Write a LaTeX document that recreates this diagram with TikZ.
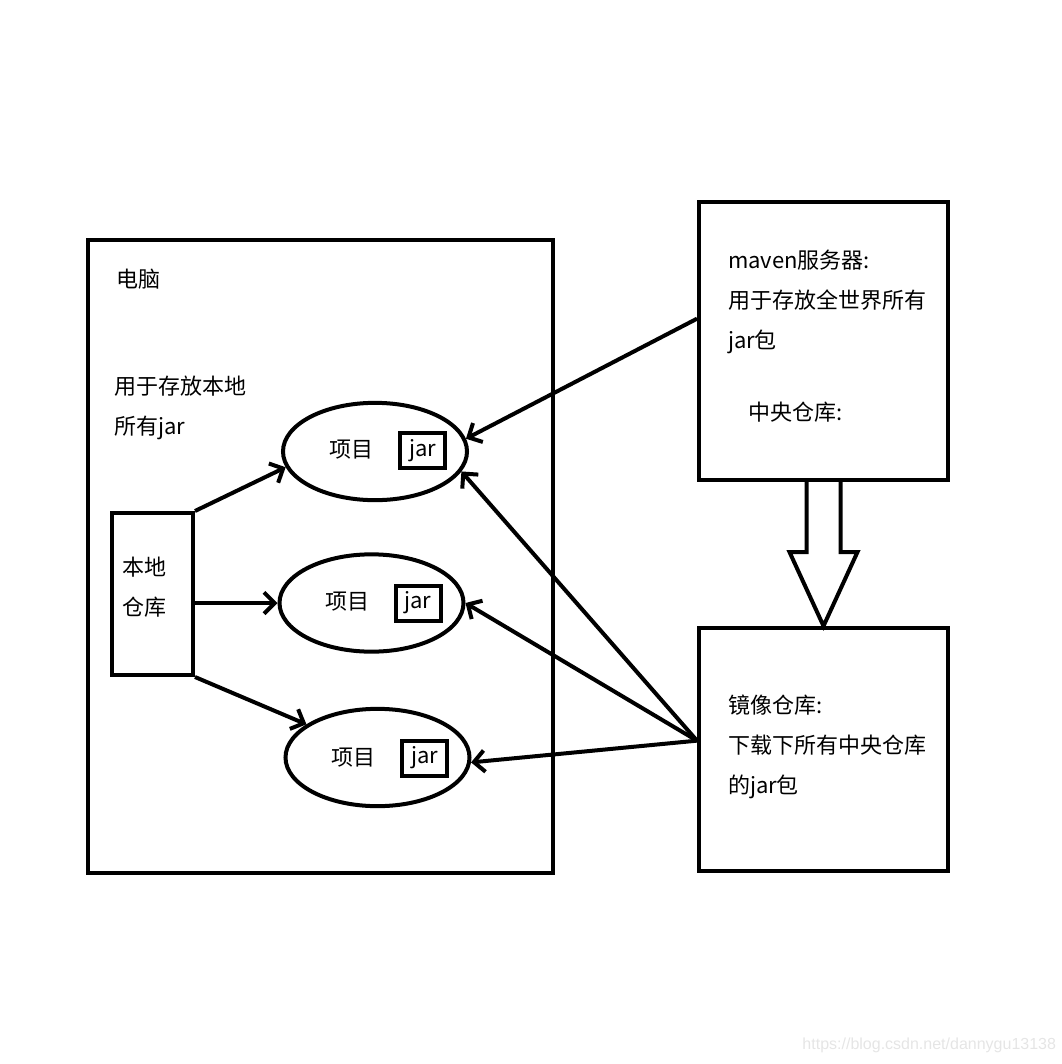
\documentclass[tikz,border=0pt]{standalone}
\usepackage{fontspec}
\setmainfont{Noto Sans CJK SC}
\newfontfamily\urlfont{Liberation Sans}
\usetikzlibrary{arrows.meta,shapes.geometric}

\begin{document}
\begin{tikzpicture}[
  x=0.75pt, y=-0.75pt,
  font=\fontsize{16.5}{30}\selectfont,
  line width=3pt,
  box/.style={draw, rectangle, inner sep=0pt},
  proj/.style={draw, ellipse, inner sep=0pt, minimum width=138pt,
               minimum height=73pt},
  jarbox/.style={draw, rectangle, inner sep=0pt, minimum width=33.75pt,
                 minimum height=26.25pt},
  txt/.style={anchor=north west, align=left, inner sep=0pt},
  >={Straight Barb[length=8pt,width=16pt]}
]
\useasboundingbox (0,0) rectangle (1062,1064);

% computer with local repository
\node[box, minimum width=348.75pt, minimum height=474.75pt] (pc) at (320.5,556.5) {};
\node[txt] (pcname) at (114,267) {电脑};
\node[txt] (pcnote) at (112,374) {用于存放本地\\所有jar};
\node[box, minimum width=60.75pt, minimum height=121.5pt] (loc) at (152.5,594) {};
\node[txt] (locname) at (120,555) {本地\\仓库};

% projects
\node[proj] (p1) at (375,451.5) {};
\node[proj] (p2) at (371.5,603) {};
\node[proj] (p3) at (377.5,757.5) {};
\node (t1) at (351,450) {项目};
\node (t2) at (347,602) {项目};
\node (t3) at (353,758) {项目};
\node[jarbox] (j1) at (422.5,450.5) {jar};
\node[jarbox] (j2) at (418,603) {jar};
\node[jarbox] (j3) at (424.5,758) {jar};

% remote side
\node[box, minimum width=186.75pt, minimum height=208.5pt] (mvn) at (823.5,341) {};
\node[txt] (mvnnote) at (726,248) {maven服务器:\\用于存放全世界所有\\jar包};
\node[txt] (central) at (746,400) {中央仓库:};
\node[box, minimum width=186.75pt, minimum height=182.25pt] (mir) at (823.5,749.5) {};
\node[txt] (mirnote) at (726,693) {镜像仓库:\\下载下所有中央仓库\\的jar包};

\node[anchor=east, inner sep=0pt, text=black!10,
      font=\urlfont\fontsize{12}{14}\selectfont] (url) at (1058,1045)
  {https://blog.csdn.net/dannygu13138};

\draw[->] (loc.north east) -- (p1.190);
\draw[->] (p2.west -| loc.east) -- (p2.west);
\draw[->] (loc.south east) -- (p3.155);

\coordinate (mirout) at (mir.176);
\draw[->] (mvn.170) -- (p1.8);
\draw[->] (mirout) -- (p1.-13);
\draw[->] (mirout) -- (p2.east);
\draw[->] (mirout) -- (p3.-3);

% hollow arrow central -> mirror
\draw ([xshift=-12.75pt]mvn.south) -- ++(0,70) -- ++(-17,0) -- (mir.north)
  -- ++(34,-74) -- ++(-17,0) |- ([xshift=12.75pt]mvn.south);
\end{tikzpicture}
\end{document}
